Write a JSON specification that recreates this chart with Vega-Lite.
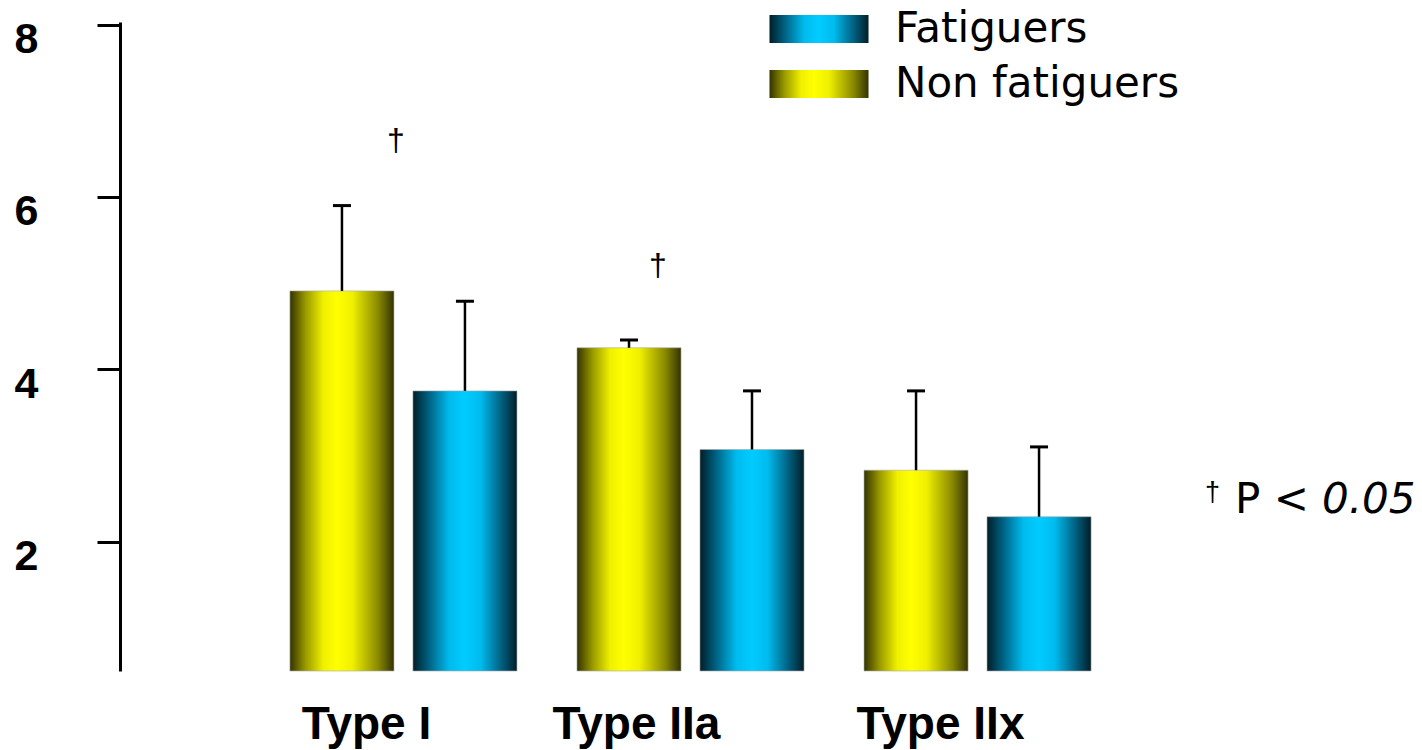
{
  "$schema": "https://vega.github.io/schema/vega-lite/v6.json",
  "width": 1141,
  "height": 649,
  "autosize": "none",
  "padding": {"left": 120, "top": 22, "right": 161, "bottom": 79},
  "background": "white",
  "config": {"view": {"stroke": null}, "font": "Liberation Sans, Arial, sans-serif"},
  "encoding": {
    "x": {
      "field": "type", "type": "nominal",
      "scale": {"domain": ["Type I", "Type IIa", "Type IIx"], "paddingInner": 0.209, "paddingOuter": 0.592},
      "axis": {
        "title": null, "domain": false, "ticks": false, "labelAngle": 0,
        "labelFontSize": 46, "labelFontWeight": "bold", "labelColor": "black",
        "labelBaseline": "alphabetic", "labelPadding": 67, "labelLimit": 0,
        "labelOffset": {"condition": {"test": "datum.value === 'Type IIa'", "value": -54}, "value": -37}
      }
    },
    "xOffset": {
      "field": "group", "type": "nominal",
      "scale": {"domain": ["Non fatiguers", "Fatiguers"], "paddingInner": 0.154, "paddingOuter": 0}
    }
  },
  "layer": [
    {
      "data": {"values": [
        {"type": "Type I", "group": "Non fatiguers", "mean": 4.91, "upper": 5.90},
        {"type": "Type I", "group": "Fatiguers", "mean": 3.75, "upper": 4.79},
        {"type": "Type IIa", "group": "Non fatiguers", "mean": 4.25, "upper": 4.34},
        {"type": "Type IIa", "group": "Fatiguers", "mean": 3.07, "upper": 3.75},
        {"type": "Type IIx", "group": "Non fatiguers", "mean": 2.83, "upper": 3.75},
        {"type": "Type IIx", "group": "Fatiguers", "mean": 2.29, "upper": 3.10}
      ]},
      "layer": [
        {
          "mark": {"type": "bar", "stroke": "#aaaaaa", "strokeWidth": 0.6},
          "encoding": {
            "y": {
              "field": "mean", "type": "quantitative",
              "scale": {"domain": [0.5, 8.03], "nice": false, "zero": false},
              "axis": {
                "title": null, "values": [2, 4, 6, 8], "format": "d", "grid": false,
                "domainColor": "black", "domainWidth": 3,
                "tickColor": "black", "tickWidth": 3, "tickSize": 23,
                "labelFontSize": 43, "labelFontWeight": "bold", "labelColor": "black",
                "labelPadding": 59, "labelOffset": 15, "labelBaseline": "middle"
              }
            },
            "y2": {"datum": 0.5},
            "fill": {
              "field": "group", "type": "nominal",
              "scale": {
                "domain": ["Fatiguers", "Non fatiguers"],
                "range": [
                  {"expr": "{gradient: 'linear', x1: 0, x2: 1, y1: 0, y2: 0, stops: [{offset: 0, color: '#001e28'}, {offset: 0.15, color: '#006080'}, {offset: 0.35, color: '#00bbee'}, {offset: 0.5, color: '#00ccff'}, {offset: 0.65, color: '#00bbee'}, {offset: 0.85, color: '#006080'}, {offset: 1, color: '#001e28'}]}"},
                  {"expr": "{gradient: 'linear', x1: 0, x2: 1, y1: 0, y2: 0, stops: [{offset: 0, color: '#333300'}, {offset: 0.15, color: '#999900'}, {offset: 0.32, color: '#f0f000'}, {offset: 0.45, color: '#ffff00'}, {offset: 0.6, color: '#f0f000'}, {offset: 0.85, color: '#888800'}, {offset: 1, color: '#333300'}]}"}
                ]
              },
              "legend": {
                "orient": "none", "legendX": 678, "legendY": -14, "title": null, "padding": 0,
                "symbolType": "M-3.536,-1H3.536V1H-3.536Z", "symbolSize": 784,
                "symbolStrokeWidth": 0, "symbolOpacity": 1,
                "labelFont": "DejaVu Sans", "labelFontSize": 42, "labelColor": "black", "labelOffset": 55, "rowPadding": 13, "labelLimit": 0
              }
            }
          }
        },
        {
          "mark": {"type": "rule", "color": "black", "strokeWidth": 2.5},
          "encoding": {
            "y": {"field": "mean", "type": "quantitative"},
            "y2": {"field": "upper"}
          }
        },
        {
          "mark": {"type": "tick", "color": "black", "opacity": 1, "size": 18, "thickness": 3},
          "encoding": {
            "y": {"field": "upper", "type": "quantitative"}
          }
        }
      ]
    },
    {
      "data": {"values": [{"type": "Type I", "group": "Non fatiguers", "v": 6.53, "label": "†"}]},
      "mark": {"type": "text", "fontSize": 32, "color": "black", "align": "center", "baseline": "alphabetic", "dx": 54},
      "encoding": {"y": {"field": "v", "type": "quantitative"}, "text": {"field": "label"}}
    },
    {
      "data": {"values": [{"type": "Type IIa", "group": "Non fatiguers", "v": 5.08, "label": "†"}]},
      "mark": {"type": "text", "fontSize": 32, "color": "black", "align": "center", "baseline": "alphabetic", "dx": 29},
      "encoding": {"y": {"field": "v", "type": "quantitative"}, "text": {"field": "label"}}
    },
    {
      "data": {"values": [{"type": "Type IIx", "group": "Fatiguers", "v": 2.475, "label": "†"}]},
      "mark": {"type": "text", "fontSize": 27, "color": "black", "align": "left", "baseline": "alphabetic", "dx": 166},
      "encoding": {"y": {"field": "v", "type": "quantitative"}, "text": {"field": "label"}}
    },
    {
      "data": {"values": [{"type": "Type IIx", "group": "Fatiguers", "v": 2.336, "label": "P <"}]},
      "mark": {"type": "text", "font": "DejaVu Sans", "fontSize": 42, "color": "black", "align": "left", "baseline": "alphabetic", "dx": 196},
      "encoding": {"y": {"field": "v", "type": "quantitative"}, "text": {"field": "label"}}
    },
    {
      "data": {"values": [{"type": "Type IIx", "group": "Fatiguers", "v": 2.336, "label": "0.05"}]},
      "mark": {"type": "text", "font": "DejaVu Sans", "fontSize": 42, "fontStyle": "italic", "color": "black", "align": "left", "baseline": "alphabetic", "dx": 283},
      "encoding": {"y": {"field": "v", "type": "quantitative"}, "text": {"field": "label"}}
    }
  ]
}
